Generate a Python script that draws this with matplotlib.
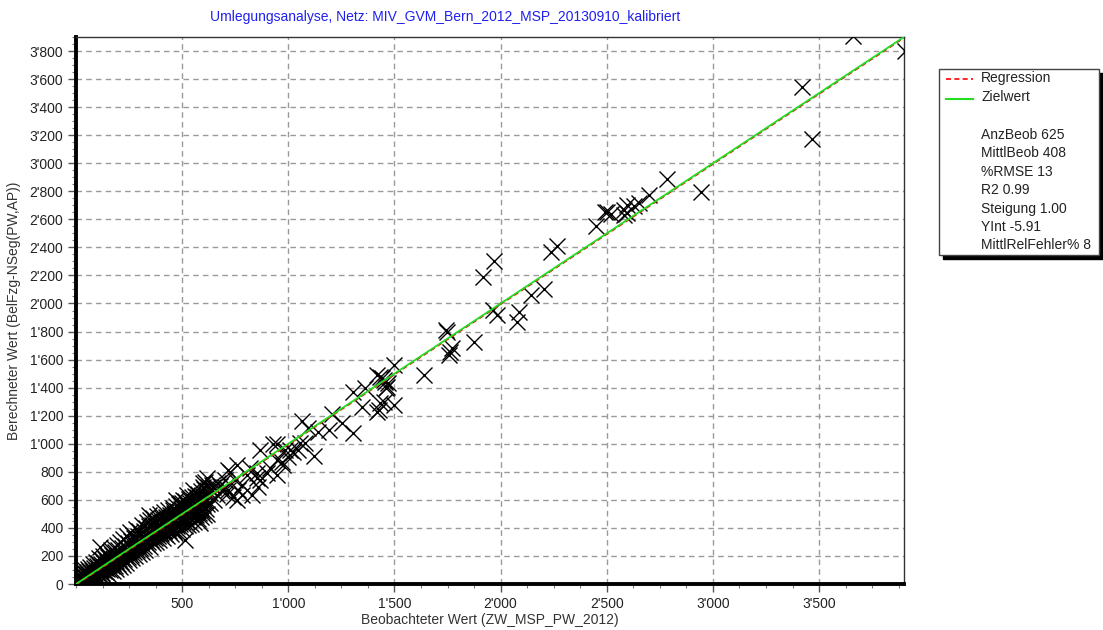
import numpy as np
import matplotlib.pyplot as plt
from matplotlib.patches import Rectangle
from matplotlib.lines import Line2D
from matplotlib.ticker import FuncFormatter, MultipleLocator

plt.rcParams['font.family'] = ['Liberation Sans', 'DejaVu Sans']
plt.rcParams['font.size'] = 10

title = 'Umlegungsanalyse, Netz: MIV_GVM_Bern_2012_MSP_20130910_kalibriert'
xlabel = 'Beobachteter Wert (ZW_MSP_PW_2012)'
ylabel = 'Berechneter Wert (BelFzg-NSeg(PW,AP))'

# regression stats shown in the legend box
stats = ['AnzBeob 625', 'MittlBeob 408', '%RMSE 13', 'R2 0.99',
         'Steigung 1.00', 'YInt -5.91', 'MittlRelFehler% 8']
slope = 1.00
yint = -5.91

# observed / computed counts, large links
obs_hi = [3660, 3905, 3420, 3468, 2944, 2786, 2700, 2652, 2630, 2597, 2581, 2581,
          2597, 2520, 2490, 2503, 2450, 2265, 2235, 2205, 2144, 2086, 2078, 1984,
          1965, 1968, 1915, 1873, 1771, 1763, 1755, 1743, 1748, 1637, 1500, 1465,
          1457, 1441, 1420, 1433, 1449, 1425, 1417, 1496, 1362, 1305, 1347, 1305,
          1252, 1205, 1190, 1142, 1120, 1095, 1065, 1079, 1055, 1047, 1024, 1008,
          1000, 985, 977, 969, 945, 929, 945, 945, 914, 898, 867, 867, 859, 851,
          851, 827, 819, 804, 780, 780, 764, 757, 757, 749, 741, 725, 717, 717,
          701, 1430, 1450, 1470, 1460]
calc_hi = [3905, 3800, 3540, 3172, 2796, 2888, 2775, 2714, 2697, 2700, 2667, 2631,
           2643, 2640, 2650, 2655, 2555, 2410, 2370, 2103, 2064, 1937, 1870, 1918,
           1955, 2305, 2190, 1728, 1680, 1656, 1633, 1813, 1800, 1490, 1561, 1402,
           1442, 1467, 1490, 1290, 1300, 1240, 1225, 1276, 1395, 1370, 1264, 1074,
           1146, 1215, 1100, 1086, 915, 1110, 1165, 1003, 1003, 955, 943, 955,
           908, 955, 848, 872, 1000, 995, 884, 780, 825, 789, 955, 741, 694, 754,
           789, 635, 825, 777, 706, 635, 670, 848, 599, 741, 622, 801, 813, 670,
           741, 1475, 1455, 1430, 1395]

# medium links
obs_mid = [615, 599, 646, 631, 662, 599, 568, 552, 521, 489, 473, 457, 536, 583,
           631, 639, 607, 583, 513, 505, 345, 112, 599, 680, 690, 670, 650, 700, 710]
calc_mid = [754, 718, 694, 647, 635, 611, 622, 670, 635, 575, 599, 528, 528, 551,
            575, 706, 730, 433, 314, 599, 490, 262, 694, 700, 660, 720, 600, 690, 640]

# small links (dense cloud near the origin)
obs_lo = [3, 5, 7, 9, 10, 12, 14, 15, 17, 18, 20, 21, 23, 24, 26, 27, 29, 30, 32, 33,
          35, 36, 38, 40, 41, 43, 44, 46, 47, 49, 50, 52, 53, 55, 56, 58, 60, 60,
          62, 64, 66, 68, 70, 72, 74, 76, 78, 80, 82, 84, 86, 88, 90, 92, 94, 96,
          98, 100, 102, 104, 106, 108, 110, 112, 114, 116, 118, 120, 122, 124, 126,
          128, 130, 132, 134, 136, 138, 140, 142, 144, 146, 148, 150,
          152, 155, 158, 160, 163, 165, 168, 170, 173, 175, 178, 180, 183, 185, 188,
          190, 193, 195, 198, 200, 203, 205, 208, 210, 213, 215, 218, 220, 223, 225,
          228, 230, 233, 235, 238, 240, 243, 245, 248, 250, 253, 255, 258, 260, 263,
          265, 268, 270, 273, 275, 278, 280, 283, 285, 288, 290, 293, 295, 298, 300,
          303, 305, 308, 310, 313, 315, 318, 320, 323, 325, 328, 330, 333, 335, 338,
          340, 343, 345, 348, 350, 353, 355, 358, 360, 363, 365, 368, 370, 373, 375,
          378, 380, 383, 385, 388, 390, 393, 395, 398, 400, 403, 405, 408, 410, 413,
          415, 418, 420, 423, 425, 428, 430, 433, 435, 438, 440, 443, 445, 448, 450,
          453, 455, 458, 460, 463, 465, 468, 470, 473, 475, 478, 480, 483, 485, 488,
          490, 493, 495, 498, 500, 503, 505, 508, 510, 513, 515, 518, 520, 523, 525,
          528, 530, 533, 535, 538, 540, 543, 545, 548, 550, 553, 555, 558, 560, 563,
          565, 568, 570, 573, 575, 578, 580, 583, 585, 588, 590, 593, 595, 598, 600,
          603, 605, 608, 610, 613, 615, 618, 620]
calc_lo = [5, 18, 2, 30, 12, 45, 6, 22, 60, 35, 3, 50, 15, 75, 28, 42, 8, 65, 20, 90,
           38, 55, 12, 80, 30, 48, 100, 22, 68, 40, 5, 85, 57, 30, 110, 72, 45, 15,
           95, 60, 35, 120, 78, 50, 20, 100, 65, 140, 88, 42, 115, 70, 30, 160, 98, 55,
           130, 80, 45, 150, 110, 70, 185, 125, 90, 55, 140, 100, 170, 75, 120,
           200, 95, 150, 60, 115, 180, 135, 85, 210, 160, 110, 70,
           190, 135, 230, 100, 170, 245, 125, 205, 150, 90, 260, 180, 130, 225, 165,
           110, 280, 200, 145, 240, 175, 120, 300, 215, 160, 255, 190, 135, 320, 230,
           175, 270, 205, 150, 340, 250, 190, 290, 225, 170, 370, 265, 210, 310, 240,
           185, 350, 280, 225, 330, 260, 200, 390, 300, 240, 345, 275, 215, 380, 310,
           255, 360, 290, 230, 420, 330, 270, 380, 305, 245, 400, 345, 285, 440, 365,
           300, 410, 330, 265, 455, 380, 315, 420, 350, 290, 470, 395, 330, 440, 365,
           300, 485, 410, 345, 455, 380, 315, 500, 420, 355, 470, 395, 330, 440, 375,
           515, 430, 360, 480, 405, 340, 455, 390, 530, 445, 375, 495, 420, 355, 470,
           400, 540, 455, 380, 505, 430, 365, 555, 480, 410, 520, 445, 380, 570, 495,
           425, 535, 460, 395, 580, 505, 440, 550, 475, 410, 590, 520, 455, 560, 490,
           420, 605, 535, 470, 575, 500, 430, 620, 550, 480, 590, 515, 445, 630, 560,
           495, 600, 530, 460, 645, 575, 505, 615, 545, 475, 660, 590, 520, 625, 560,
           490, 675, 600, 535, 640, 570, 500, 690]

obs = np.array(obs_lo + obs_mid + obs_hi)
calc = np.array(calc_lo + calc_mid + calc_hi)

W, H = 1103, 630
fig = plt.figure(figsize=(W / 100, H / 100), dpi=100)


def fx(px):
    return px / W


def fy(py):
    return 1 - py / H


ax = fig.add_axes([fx(76), fy(584), (904 - 76) / W, (584 - 37) / H])

ax.plot(obs, calc, 'x', color='black', markersize=11, markeredgewidth=1.0,
        linestyle='none', zorder=3)

line_x = np.array([0, 3900])
ax.plot(line_x, slope * line_x + yint, color='red', linestyle=(0, (3, 2)),
        linewidth=1.2, zorder=4)
ax.plot(line_x, line_x, color='#22dd22', linewidth=1.3, zorder=5)

ax.set_xlim(0, 3900)
ax.set_ylim(0, 3900)

ax.set_xticks(np.arange(500, 3501, 500))
ax.set_yticks(np.arange(0, 3801, 200))
ax.xaxis.set_minor_locator(MultipleLocator(125))
ax.yaxis.set_minor_locator(MultipleLocator(50))
fmt = FuncFormatter(lambda v, p: f'{int(v):,}'.replace(',', "'"))
ax.xaxis.set_major_formatter(fmt)
ax.yaxis.set_major_formatter(fmt)
ax.tick_params(which='major', direction='out', length=6, width=1,
               color='#555555', labelsize=10, labelcolor='#222222', pad=3)
ax.tick_params(which='minor', direction='out', length=3, width=0.8,
               color='#777777')

ax.grid(True, which='major', color='#9a9a9a', linestyle=(0, (4, 3)),
        linewidth=1.0, zorder=0)
ax.set_axisbelow(True)

for side in ['left', 'bottom']:
    ax.spines[side].set_linewidth(2.8)
    ax.spines[side].set_color('black')
for side in ['top', 'right']:
    ax.spines[side].set_linewidth(1.0)
    ax.spines[side].set_color('#333333')

ax.set_xlabel(xlabel, fontsize=10, color='#333333', labelpad=2)
ax.set_ylabel(ylabel, fontsize=10, color='#333333', labelpad=6)

fig.text(fx(210), fy(17), title, color='#2020ee', fontsize=10,
         ha='left', va='center')

# legend box with drop shadow
bx0, by0, bx1, by1 = 939, 69, 1099, 255
fig.patches.append(Rectangle((fx(bx0 + 4), fy(by1 + 4)), (bx1 - bx0) / W,
                             (by1 - by0) / H, transform=fig.transFigure,
                             facecolor='black', edgecolor='black', zorder=1))
fig.patches.append(Rectangle((fx(bx0), fy(by1)), (bx1 - bx0) / W,
                             (by1 - by0) / H, transform=fig.transFigure,
                             facecolor='white', edgecolor='#444444',
                             linewidth=1.0, zorder=2))

fig.lines.append(Line2D([fx(946), fx(973)], [fy(79), fy(79)],
                        transform=fig.transFigure, color='red',
                        linestyle=(0, (3, 2)), linewidth=1.2, zorder=3))
fig.lines.append(Line2D([fx(946), fx(973)], [fy(99), fy(99)],
                        transform=fig.transFigure, color='#22dd22',
                        linewidth=1.5, zorder=3))
fig.text(fx(981), fy(78), 'Regression', fontsize=10, va='center',
         color='#222222', zorder=4)
fig.text(fx(981), fy(97), 'Zielwert', fontsize=10, va='center',
         color='#222222', zorder=4)
for i, s in enumerate(stats):
    fig.text(fx(981), fy(135 + i * 18.4), s, fontsize=10, va='center',
             color='#222222', zorder=4)

fig.savefig('out.png', dpi=100)
